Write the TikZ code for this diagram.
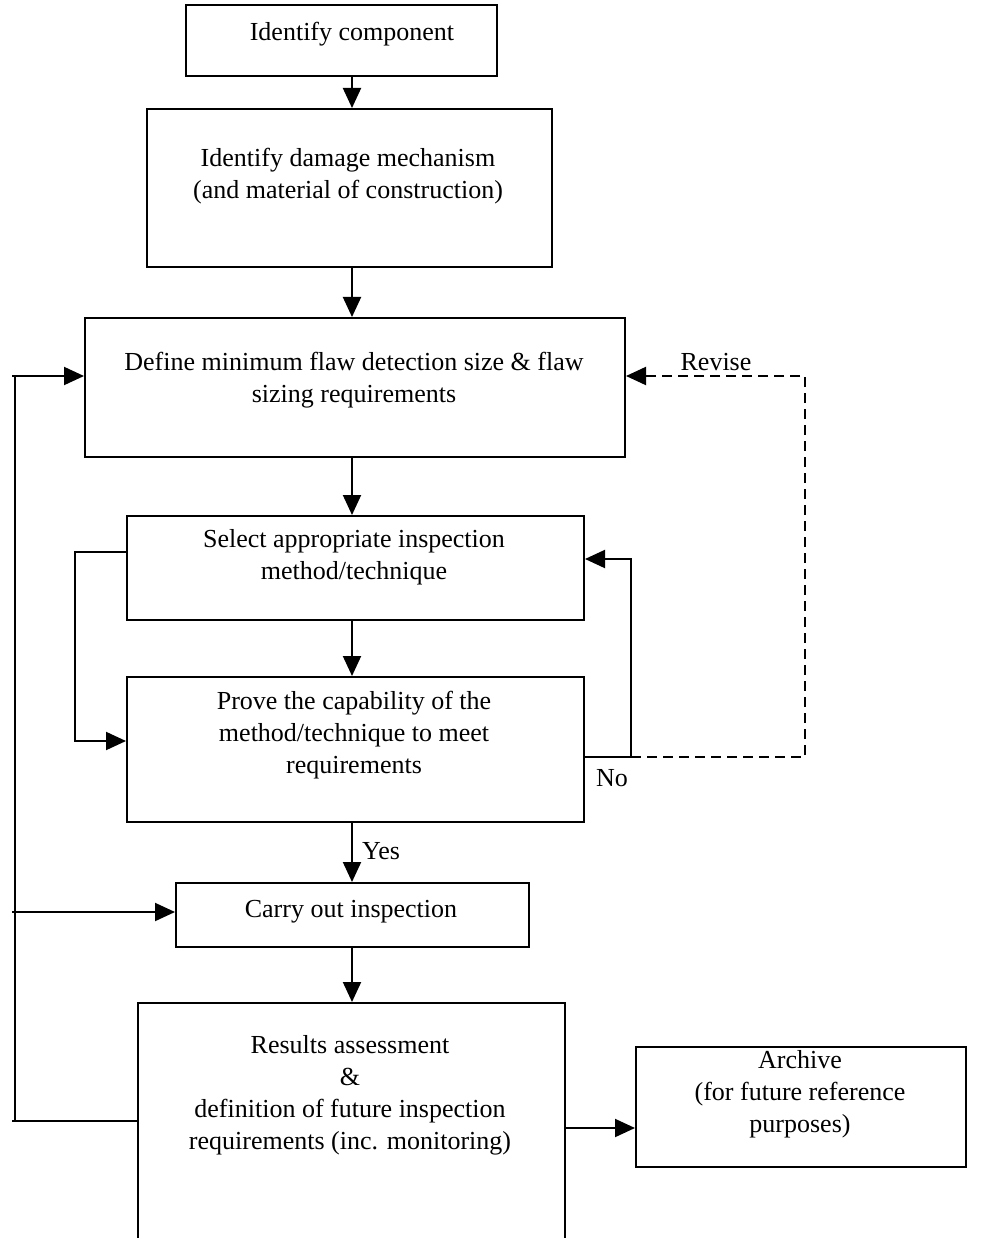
\documentclass[tikz,border=0pt]{standalone}
\usepackage{fontspec}
\setmainfont{Liberation Serif}
\usetikzlibrary{arrows.meta}

\tikzset{
  stepbox/.style={draw, line width=2pt, inner sep=0pt, anchor=north west},
  txt/.style={align=center, inner sep=0pt, font=\fontsize{26}{32}\selectfont},
  lbl/.style={inner sep=0pt, font=\fontsize{26}{32}\selectfont},
  wire/.style={line width=2pt},
  arr/.style={wire, -{Triangle[length=20pt,width=18pt]}},
  dashwire/.style={line width=2pt, dash pattern=on 10pt off 6pt},
}

% rectangle from its top-left and bottom-right corners
\newcommand{\flowbox}[5]{%
  \node[stepbox, minimum width=#4pt-#2pt, minimum height=#5pt-#3pt] (#1) at (#2,#3) {};}

\begin{document}
\begin{tikzpicture}[x=1pt, y=-1pt]
\useasboundingbox (0,0) rectangle (980,1238);
\clip (0,0) rectangle (980,1238);

% boxes
\flowbox{comp}{185}{4}{496}{75}
\flowbox{dmg}{146}{108}{551}{266}
\flowbox{def}{84}{317}{624}{456}
\flowbox{sel}{126}{515}{583}{619}
\flowbox{prove}{126}{676}{583}{821}
\flowbox{carry}{175}{882}{528}{946}
\flowbox{res}{137}{1002}{564}{1270}
\flowbox{arch}{635}{1046}{965}{1166}

% box texts
\node[txt] (tcomp) at (352,34) {Identify component};
\node[txt] (tdmg) at (348,176) {Identify damage mechanism\\(and material of construction)};
\node[txt] (tdef) at (354,380) {Define minimum flaw detection size \& flaw\\sizing requirements};
\node[txt] (tsel) at (354,557) {Select appropriate inspection\\method/technique};
\node[txt] (tprove) at (354,735) {Prove the capability of the\\method/technique to meet\\requirements};
\node[txt] (tcarry) at (351,912) {Carry out inspection};
\node[txt] (tres) at (350,1095) {Results assessment\\\&\\definition of future inspection\\requirements (inc. monitoring)};
\node[txt] (tarch) at (800,1094) {Archive\\(for future reference\\purposes)};

% main sequence
\coordinate (spine) at (352,0);
\draw[arr] (comp.south -| spine) -- (dmg.north -| spine);
\draw[arr] (dmg.south -| spine) -- (def.north -| spine);
\draw[arr] (def.south -| spine) -- (sel.north -| spine);
\draw[arr] (sel.south -| spine) -- (prove.north -| spine);
\draw[arr] (prove.south -| spine) -- (carry.north -| spine);
\draw[arr] (carry.south -| spine) -- (res.north -| spine);
\node[lbl, anchor=west] (yes) at (362,851) {Yes};

% archive
\coordinate (archy) at (0,1128);
\draw[arr] (res.east |- archy) -- (arch.west |- archy);

% left feedback bus
\coordinate (tickA) at (12,376);
\coordinate (tickB) at (12,912);
\coordinate (tickC) at (12,1121);
\draw[wire] (15,376) -- (15,1121);
\draw[arr] (tickA) -- (def.west |- tickA);
\draw[arr] (tickB) -- (carry.west |- tickB);
\draw[wire] (tickC) -- (res.west |- tickC);

% select -> prove bypass
\coordinate (bypTop) at (75,552);
\coordinate (bypBot) at (75,741);
\draw[arr] (sel.west |- bypTop) -- (bypTop) -- (bypBot) -- (prove.west |- bypBot);

% "No" branch back to selection
\coordinate (noA) at (631,757);
\coordinate (noB) at (631,559);
\draw[arr] (prove.east |- noA) -- (noA) -- (noB) -- (sel.east |- noB);
\node[lbl] (no) at (612,778) {No};

% revise path back to requirements
\coordinate (revA) at (805,757);
\coordinate (revB) at (805,376);
\draw[dashwire] (noA) -- (revA) -- (revB) -- (def.east |- revB) ;
\draw[arr] ([xshift=20pt]def.east |- revB) -- (def.east |- revB);
\node[lbl] (revise) at (716,362) {Revise};
\end{tikzpicture}
\end{document}
